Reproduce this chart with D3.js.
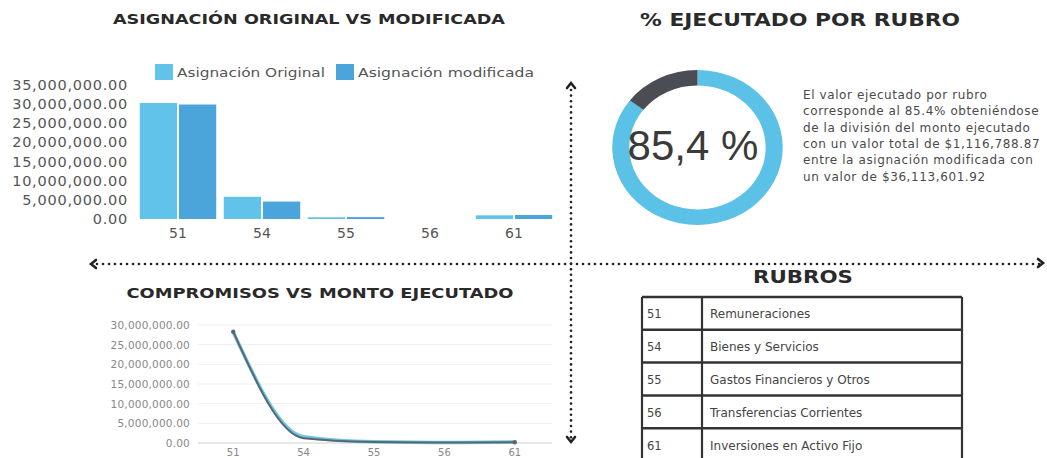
<!DOCTYPE html>
<html>
<head>
<meta charset="utf-8">
<script src="https://cdn.jsdelivr.net/npm/d3@7"></script>
<style>
  body { margin: 0; background: #fff; }
  svg { display: block; }
</style>
</head>
<body>
<div id="chart"></div>
<script>
// rubros (categorias)
const categorias = ["51", "54", "55", "56", "61"];
const nombresRubro = ["Remuneraciones", "Bienes y Servicios", "Gastos Financieros y Otros", "Transferencias Corrientes", "Inversiones en Activo Fijo"];
// asignacion original vs modificada
const asignacionOriginal = [30300000, 5800000, 450000, 0, 950000];
const asignacionModificada = [29900000, 4550000, 500000, 0, 1050000];
const ticksBarras = [0, 5000000, 10000000, 15000000, 20000000, 25000000, 30000000, 35000000];
// compromisos vs monto ejecutado
const compromisos = [28300000, 1200000, 250000, 100000, 200000];
const montoEjecutado = [28200000, 1600000, 300000, 150000, 250000];
const ticksLinea = [0, 5000000, 10000000, 15000000, 20000000, 25000000, 30000000];
// % ejecutado
const porcentajeEjecutado = [85.4, 14.6];
const textoEjecutado = [
  "El valor ejecutado por rubro",
  "corresponde al 85.4% obteniéndose",
  "de la división del monto ejecutado",
  "con un valor total de $1,116,788.87",
  "entre la asignación modificada con",
  "un valor de $36,113,601.92"
];

const W = 1047, H = 458;
const svg = d3.select("#chart").append("svg").attr("width", W).attr("height", H);
const fmt = d3.format(",.2f");
const fuente = "'DejaVu Sans', sans-serif";

function titulo(txt, x, y, size, len) {
  svg.append("text")
    .attr("x", x).attr("y", y)
    .attr("text-anchor", "middle")
    .attr("dominant-baseline", "central")
    .attr("font-family", fuente)
    .attr("font-weight", "bold")
    .attr("font-size", size)
    .attr("fill", "#2a2a2a")
    .attr("textLength", len)
    .attr("lengthAdjust", "spacingAndGlyphs")
    .text(txt);
}

// ---------- barras ----------
titulo("ASIGNACIÓN ORIGINAL VS MODIFICADA", 309, 19, 14, 392);

const x0 = d3.scaleBand().domain(categorias).range([136, 556]).paddingInner(0.09).paddingOuter(0.045);
const series = ["Asignación Original", "Asignación modificada"];
const colores = ["#62c3ea", "#4ba5da"];
const x1 = d3.scaleBand().domain(series).range([0, x0.bandwidth()]).paddingInner(0.05);
const yB = d3.scaleLinear().domain([0, 35000000]).range([219, 85]);

const gB = svg.append("g");
gB.selectAll("text.ytick").data(ticksBarras).join("text")
  .attr("class", "ytick")
  .attr("x", 128).attr("y", d => yB(d))
  .attr("text-anchor", "end").attr("dominant-baseline", "central")
  .attr("font-family", fuente).attr("font-size", 14.5).attr("fill", "#555")
  .attr("letter-spacing", 0.75)
  .text(d => fmt(d));

const grupos = gB.selectAll("g.grupo").data(categorias).join("g")
  .attr("class", "grupo")
  .attr("transform", d => "translate(" + x0(d) + ",0)");
grupos.selectAll("rect").data((d, i) => [asignacionOriginal[i], asignacionModificada[i]]).join("rect")
  .attr("x", (d, j) => x1(series[j]))
  .attr("width", x1.bandwidth())
  .attr("y", d => yB(d))
  .attr("height", d => yB(0) - yB(d))
  .attr("fill", (d, j) => colores[j]);

gB.selectAll("text.xtick").data(categorias).join("text")
  .attr("class", "xtick")
  .attr("x", d => x0(d) + x0.bandwidth() / 2).attr("y", 233)
  .attr("text-anchor", "middle").attr("dominant-baseline", "central")
  .attr("font-family", fuente).attr("font-size", 14).attr("fill", "#555")
  .text(d => d);

// leyenda
const leyX = [155, 336];
series.forEach((s, i) => {
  gB.append("rect").attr("x", leyX[i]).attr("y", 64).attr("width", 18).attr("height", 16).attr("fill", colores[i]);
  gB.append("text").attr("x", leyX[i] + 22).attr("y", 72)
    .attr("dominant-baseline", "central")
    .attr("font-family", fuente).attr("font-size", 13).attr("fill", "#555")
    .attr("textLength", i ? 176 : 148).attr("lengthAdjust", "spacingAndGlyphs")
    .text(s);
});

// ---------- donut ----------
titulo("% EJECUTADO POR RUBRO", 800, 20, 17, 320);
const pie = d3.pie().sort(null).value(d => d);
const arco = d3.arc().innerRadius(62).outerRadius(77.5);
const gD = svg.append("g").attr("transform", "translate(697.5,147.5) scale(1.1,1)");
gD.selectAll("path").data(pie(porcentajeEjecutado)).join("path")
  .attr("d", arco)
  .attr("fill", (d, i) => i ? "#4a4e54" : "#5bc1e6");
svg.append("text")
  .attr("x", 693).attr("y", 160)
  .attr("text-anchor", "middle")
  .attr("font-family", "'Liberation Sans', Arial, sans-serif")
  .attr("font-size", 42).attr("fill", "#3a3a3a")
  .text(d3.format(".1f")(porcentajeEjecutado[0]).replace(".", ",") + " %");

svg.append("g").selectAll("text").data(textoEjecutado).join("text")
  .attr("x", 803).attr("y", (d, i) => 99 + i * 16.3)
  .attr("font-family", fuente)
  .attr("font-size", 12).attr("fill", "#4a4a4a")
  .attr("letter-spacing", 0.6)
  .text(d => d);

// ---------- lineas ----------
titulo("COMPROMISOS VS MONTO EJECUTADO", 320, 293, 14, 387);
const xL = d3.scalePoint().domain(categorias).range([198, 550]).padding(0.5);
const yL = d3.scaleLinear().domain([0, 30000000]).range([443, 325]);
const gL = svg.append("g");
gL.selectAll("line.grid").data(ticksLinea).join("line")
  .attr("class", "grid")
  .attr("x1", 198).attr("x2", 552)
  .attr("y1", d => yL(d)).attr("y2", d => yL(d))
  .attr("stroke", d => d === 0 ? "#cfcfcf" : "#eeeeee").attr("stroke-width", 1);
gL.selectAll("text.ytick").data(ticksLinea).join("text")
  .attr("class", "ytick")
  .attr("x", 190).attr("y", d => yL(d))
  .attr("text-anchor", "end").attr("dominant-baseline", "central")
  .attr("font-family", fuente).attr("font-size", 10.5).attr("fill", "#888")
  .attr("letter-spacing", 0.2)
  .text(d => fmt(d));
gL.selectAll("text.xtick").data(categorias).join("text")
  .attr("class", "xtick")
  .attr("x", d => xL(d)).attr("y", 452)
  .attr("text-anchor", "middle").attr("dominant-baseline", "central")
  .attr("font-family", fuente).attr("font-size", 10).attr("fill", "#888")
  .text(d => d);

const linea = d3.line().x((d, i) => xL(categorias[i])).y(d => yL(d)).curve(d3.curveMonotoneX);
gL.append("path").datum(montoEjecutado).attr("d", linea)
  .attr("fill", "none").attr("stroke", "#6cc8e8").attr("stroke-width", 3.5);
gL.append("path").datum(compromisos).attr("d", linea)
  .attr("fill", "none").attr("stroke", "#5d666e").attr("stroke-width", 2);
gL.selectAll("circle").data([0, 4]).join("circle")
  .attr("cx", i => xL(categorias[i])).attr("cy", i => yL(compromisos[i]))
  .attr("r", 2.2).attr("fill", "#5d666e");

// ---------- tabla rubros ----------
svg.append("text")
  .attr("x", 803).attr("y", 277)
  .attr("text-anchor", "middle").attr("dominant-baseline", "central")
  .attr("font-family", fuente).attr("font-weight", "bold")
  .attr("font-size", 17).attr("fill", "#2a2a2a")
  .attr("textLength", 100).attr("lengthAdjust", "spacingAndGlyphs")
  .text("RUBROS");

const yT = d3.scaleBand().domain(categorias).range([297, 461]);
const gT = svg.append("g");
gT.selectAll("line.fila").data(categorias).join("line")
  .attr("class", "fila")
  .attr("x1", 642).attr("x2", 962)
  .attr("y1", d => yT(d)).attr("y2", d => yT(d))
  .attr("stroke", "#333").attr("stroke-width", 2.5);
[642, 702, 962].forEach(x => {
  gT.append("line").attr("x1", x).attr("x2", x).attr("y1", 297).attr("y2", 461)
    .attr("stroke", "#333").attr("stroke-width", 2.2);
});
gT.selectAll("text.cod").data(categorias).join("text")
  .attr("class", "cod")
  .attr("x", 647).attr("y", d => yT(d) + yT.bandwidth() / 2 + 1)
  .attr("dominant-baseline", "central")
  .attr("font-family", fuente).attr("font-size", 11.5).attr("fill", "#444")
  .text(d => d);
gT.selectAll("text.nom").data(nombresRubro).join("text")
  .attr("class", "nom")
  .attr("x", 710).attr("y", (d, i) => yT(categorias[i]) + yT.bandwidth() / 2 + 1)
  .attr("dominant-baseline", "central")
  .attr("font-family", fuente).attr("font-size", 12).attr("fill", "#444")
  .text(d => d);

// ---------- flechas punteadas ----------
const gF = svg.append("g").attr("fill", "#222");
gF.selectAll("circle.v").data(d3.range(90, 438, 5.6)).join("circle")
  .attr("class", "v").attr("cx", 571).attr("cy", d => d).attr("r", 1.3);
gF.selectAll("circle.h").data(d3.range(97, 1040, 6)).join("circle")
  .attr("class", "h").attr("cx", d => d).attr("cy", 264).attr("r", 1.3);
const chevron = (p) => gF.append("path").attr("d", p)
  .attr("fill", "none").attr("stroke", "#222").attr("stroke-width", 2.6)
  .attr("stroke-linejoin", "miter").attr("stroke-linecap", "round");
chevron("M567,88 L571,83 L575,88");
chevron("M567,437 L571,442 L575,437");
chevron("M96,260 L91,264 L96,268");
chevron("M1038,259 L1043,263 L1038,267");
</script>
</body>
</html>
